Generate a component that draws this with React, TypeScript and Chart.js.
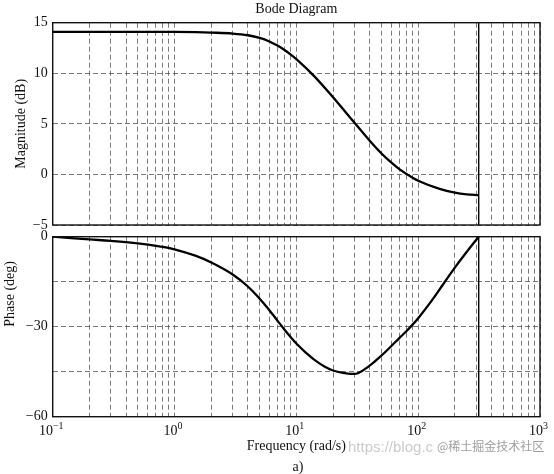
import React, { useEffect, useRef } from "react";
import { Chart, registerables } from "chart.js";

Chart.register(...registerables);

// ---- data ----
const magnitudeFrequencies = [0.1, 0.3, 1, 1.5, 2, 3, 4, 5, 6, 7, 8, 9, 10, 14, 20, 25, 31, 40, 50, 60, 70, 90, 100, 150, 200, 250, 314];
const magnitudeDb = [14.1, 14.1, 14.09, 14.06, 14.02, 13.93, 13.76, 13.49, 13.14, 12.74, 12.3, 11.85, 11.4, 9.72, 7.63, 6.25, 4.91, 3.33, 2.07, 1.18, 0.52, -0.33, -0.62, -1.43, -1.8, -1.97, -2.05];

const phaseFrequencies = [0.1, 0.2, 0.3, 0.5, 0.75, 1, 1.5, 2, 3, 4, 5, 6, 7, 8, 9, 10, 12, 14, 17, 20, 25, 28, 32, 40, 50, 60, 70, 80, 90, 100, 126, 162, 200, 250, 314];
const phaseDeg = [0, -0.9, -1.4, -2.2, -3.2, -4.2, -6.4, -8.6, -12.6, -16.6, -20.7, -24.5, -28.0, -31.0, -33.5, -35.6, -38.7, -41.0, -43.3, -44.6, -45.5, -45.7, -45.5, -43.0, -39.6, -36.5, -33.8, -31.5, -29.3, -27.2, -21.9, -15.6, -10.3, -5.1, 0];

const nyquistFrequency = 314;

const xDecades = [0.1, 1, 10, 100, 1000];
const xDecadeExponents = ["\u22121", "0", "1", "2", "3"];
const xMinorMultipliers = [2, 3, 4, 5, 6, 7, 8, 9];

const magnitudeRange = [-5, 15];
const magnitudeStep = 5;
const phaseRange = [-60, 0];
const phaseStep = 15;
const phaseLabelled = [0, -30, -60];

const SERIF = "'Liberation Serif', 'Times New Roman', serif";
const GRID_COLOR = "rgba(70,70,70,0.8)";
const GRID_DASH = [5, 3];
const TEXT_COLOR = "#111";

const xGridValues = xDecades.flatMap((d) =>
  d === xDecades[xDecades.length - 1] ? [d] : [d, ...xMinorMultipliers.map((m) => m * d)]
);

const fmt = (v: number) => (v < 0 ? "\u2212" + Math.abs(v) : String(v));

const framePlugin = {
  id: "frame",
  afterDraw(chart: any) {
    const { ctx, chartArea } = chart;
    ctx.save();
    ctx.strokeStyle = "#111";
    ctx.lineWidth = 1.4;
    ctx.strokeRect(chartArea.left, chartArea.top, chartArea.right - chartArea.left, chartArea.bottom - chartArea.top);
    ctx.restore();
  },
};

function xScale() {
  return {
    type: "logarithmic" as const,
    min: xDecades[0],
    max: xDecades[xDecades.length - 1],
    afterBuildTicks: (s: any) => {
      s.ticks = xGridValues.map((v) => ({ value: v }));
    },
    ticks: { display: false },
    grid: { color: GRID_COLOR, lineWidth: 0.9, drawTicks: false },
    border: { display: false, dash: GRID_DASH },
    afterFit: (s: any) => {
      s.height = 0;
    },
  };
}

function yScale(range: number[], step: number, labelled: number[] | null) {
  return {
    type: "linear" as const,
    min: range[0],
    max: range[1],
    ticks: {
      stepSize: step,
      padding: 5,
      color: TEXT_COLOR,
      font: { family: SERIF, size: 14 },
      callback: (v: any) => (labelled && !labelled.includes(Number(v)) ? "" : fmt(Number(v))),
    },
    grid: { color: GRID_COLOR, lineWidth: 0.9, drawTicks: false },
    border: { display: false, dash: GRID_DASH },
    afterFit: (s: any) => {
      s.width = 52.7;
    },
  };
}

function curve(freqs: number[], values: number[], monotone: boolean) {
  return {
    data: freqs.map((f, i) => ({ x: f, y: values[i] })),
    borderColor: "#000",
    borderWidth: 2.3,
    pointRadius: 0,
    fill: false,
    cubicInterpolationMode: monotone ? ("monotone" as const) : ("default" as const),
    tension: 0.4,
  };
}

function nyquistLine(range: number[]) {
  return {
    data: [
      { x: nyquistFrequency, y: range[0] },
      { x: nyquistFrequency, y: range[1] },
    ],
    borderColor: "#000",
    borderWidth: 1.4,
    pointRadius: 0,
    fill: false,
    tension: 0,
  };
}

const B_TOP = 210;

export default function App() {
  const magRef = useRef<HTMLCanvasElement>(null);
  const phRef = useRef<HTMLCanvasElement>(null);

  useEffect(() => {
    const charts: Chart[] = [];

    const magText = {
      id: "magText",
      afterDraw(chart: any) {
        const { ctx, chartArea } = chart;
        ctx.save();
        ctx.fillStyle = TEXT_COLOR;
        ctx.font = `14px ${SERIF}`;
        ctx.textAlign = "center";
        ctx.textBaseline = "alphabetic";
        ctx.fillText("Bode Diagram", (chartArea.left + chartArea.right) / 2, 13);
        ctx.translate(24.5, (chartArea.top + chartArea.bottom) / 2);
        ctx.rotate(-Math.PI / 2);
        ctx.fillText("Magnitude (dB)", 0, 0);
        ctx.restore();
      },
    };

    const phaseText = {
      id: "phaseText",
      afterDraw(chart: any) {
        const { ctx, chartArea } = chart;
        const xs = chart.scales.x;
        ctx.save();
        ctx.fillStyle = TEXT_COLOR;
        ctx.textBaseline = "alphabetic";
        // x tick labels 10^n
        xDecades.forEach((d, i) => {
          const px = xs.getPixelForValue(d);
          ctx.font = `14px ${SERIF}`;
          const wBase = ctx.measureText("10").width;
          ctx.font = `10px ${SERIF}`;
          const wExp = ctx.measureText(xDecadeExponents[i]).width;
          const start = px - (wBase + wExp) / 2 - 1.5;
          ctx.textAlign = "left";
          ctx.font = `14px ${SERIF}`;
          ctx.fillText("10", start, 435 - B_TOP);
          ctx.font = `10px ${SERIF}`;
          ctx.fillText(xDecadeExponents[i], start + wBase, 429 - B_TOP);
        });
        ctx.font = `14px ${SERIF}`;
        ctx.textAlign = "center";
        ctx.fillText("Frequency (rad/s)", (chartArea.left + chartArea.right) / 2, 450 - B_TOP);
        ctx.fillText("a)", 298, 471 - B_TOP);
        // watermark
        ctx.textAlign = "left";
        ctx.fillStyle = "rgba(190,190,190,0.8)";
        ctx.font = `15px 'Liberation Sans', sans-serif`;
        ctx.fillText("https://blog.c", 348, 452 - B_TOP);
        ctx.fillStyle = "rgba(140,140,140,0.85)";
        ctx.font = `12px 'Noto Sans CJK SC', sans-serif`;
        ctx.fillText("@稀土掘金技术社区", 437, 451 - B_TOP);
        // y label
        ctx.fillStyle = TEXT_COLOR;
        ctx.font = `14px ${SERIF}`;
        ctx.translate(13.5, (chartArea.top + chartArea.bottom) / 2);
        ctx.rotate(-Math.PI / 2);
        ctx.fillText("Phase (deg)", 0, 0);
        ctx.restore();
      },
    };

    if (magRef.current) {
      charts.push(
        new Chart(magRef.current, {
          type: "line",
          data: { datasets: [curve(magnitudeFrequencies, magnitudeDb, true), nyquistLine(magnitudeRange)] as any },
          options: {
            animation: false,
            responsive: false,
            maintainAspectRatio: false,
            events: [],
            layout: { padding: { left: 0, top: 22.7, right: 14, bottom: 25 } },
            plugins: { legend: { display: false }, tooltip: { enabled: false }, title: { display: false } },
            scales: {
              x: xScale() as any,
              y: yScale(magnitudeRange, magnitudeStep, null) as any,
            },
          },
          plugins: [framePlugin, magText],
        })
      );
    }

    if (phRef.current) {
      charts.push(
        new Chart(phRef.current, {
          type: "line",
          data: { datasets: [curve(phaseFrequencies, phaseDeg, false), nyquistLine(phaseRange)] as any },
          options: {
            animation: false,
            responsive: false,
            maintainAspectRatio: false,
            events: [],
            layout: { padding: { left: 0, top: 236.7 - B_TOP, right: 14, bottom: 474 - 416.7 } },
            plugins: { legend: { display: false }, tooltip: { enabled: false }, title: { display: false } },
            scales: {
              x: xScale() as any,
              y: yScale(phaseRange, phaseStep, phaseLabelled) as any,
            },
          },
          plugins: [framePlugin, phaseText],
        })
      );
    }

    return () => charts.forEach((c) => c.destroy());
  }, []);

  return (
    <div style={{ position: "absolute", left: 0, top: 0, width: 554, height: 474, background: "#fff", overflow: "hidden" }}>
      <canvas
        ref={magRef}
        width={554}
        height={250}
        style={{ position: "absolute", left: 0, top: 0, width: 554, height: 250 }}
      />
      <canvas
        ref={phRef}
        width={554}
        height={474 - B_TOP}
        style={{ position: "absolute", left: 0, top: B_TOP, width: 554, height: 474 - B_TOP }}
      />
    </div>
  );
}
